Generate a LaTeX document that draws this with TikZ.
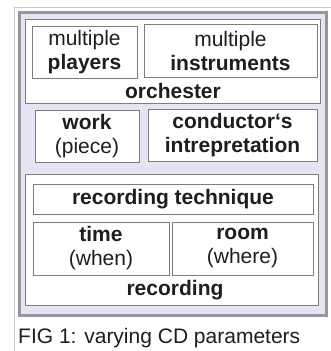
\documentclass[tikz,border=0pt]{standalone}
\usepackage{fontspec}
\setmainfont{Liberation Sans}
\usepackage{tikz}
\usetikzlibrary{positioning}
\definecolor{panelfill}{RGB}{228,228,242}
\definecolor{panelline}{RGB}{150,150,156}
\definecolor{boxline}{RGB}{125,125,125}
\definecolor{framegray}{RGB}{200,200,200}
\definecolor{ink}{RGB}{30,30,30}
\tikzset{
x=1pt, y=-1pt, % one unit is one pixel, y runs downwards
every node/.style={font=\fontsize{21}{24}\selectfont, text=ink}, % the text of every node
panel/.style={draw=panelline, line width=3pt, fill=panelfill, inner sep=0pt}, % the lavender panel
group/.style={draw=boxline, line width=0.8pt, fill=white, inner sep=0pt}, % white box holding a group
item/.style={draw=boxline, line width=0.8pt, fill=white, inner sep=0pt, align=center}, % one parameter
label/.style={inner sep=0pt, text height=15pt, text depth=0pt}, % name of a group
}
\begin{document}
\begin{tikzpicture}
\useasboundingbox (0,0) rectangle (331,351);
% light frame, cut off at the right and bottom
\coordinate (frameTR) at (331,7);
\coordinate (frameBL) at (14,351);
\draw[framegray, line width=0.8pt] (frameTR) -| (frameBL);

\node[panel, minimum width=307, minimum height=303] (panel) at (173,164) {};

% orchester
\node[group, minimum width=295, minimum height=84] (orch) at (172.5,61) {};
\node[item, minimum width=105, minimum height=52] (players) at (84.5,52) {multiple\\\textbf{players}};
\node[item, minimum width=173, minimum height=53] (instr) at (230.5,50.5) {multiple\\\textbf{instruments}};
\node[label] (orchname) at (173,91) {\textbf{orchester}};

% work and its reading
\node[item, minimum width=104, minimum height=52] (work) at (87,136) {\textbf{work}\\(piece)};
\node[item, minimum width=169, minimum height=52] (conductor) at (232.5,135) {\textbf{conductor‘s}\\\textbf{intrepretation}};

% recording
\node[group, minimum width=293, minimum height=131] (rec) at (171.5,239.5) {};
\node[item, minimum width=280, minimum height=30] (technique) at (173,199) {\textbf{recording technique}};
\node[item, minimum width=136, minimum height=53] (time) at (101,248.5) {\textbf{time}\\(when)};
\node[item, minimum width=141, minimum height=53] (room) at (242.5,248.5) {\textbf{room}\\(where)};
\node[label] (recname) at (175,288) {\textbf{recording}};

\node[inner sep=0pt, anchor=west] (caption) at (18,338) {FIG 1: varying CD parameters};
\end{tikzpicture}
\end{document}
